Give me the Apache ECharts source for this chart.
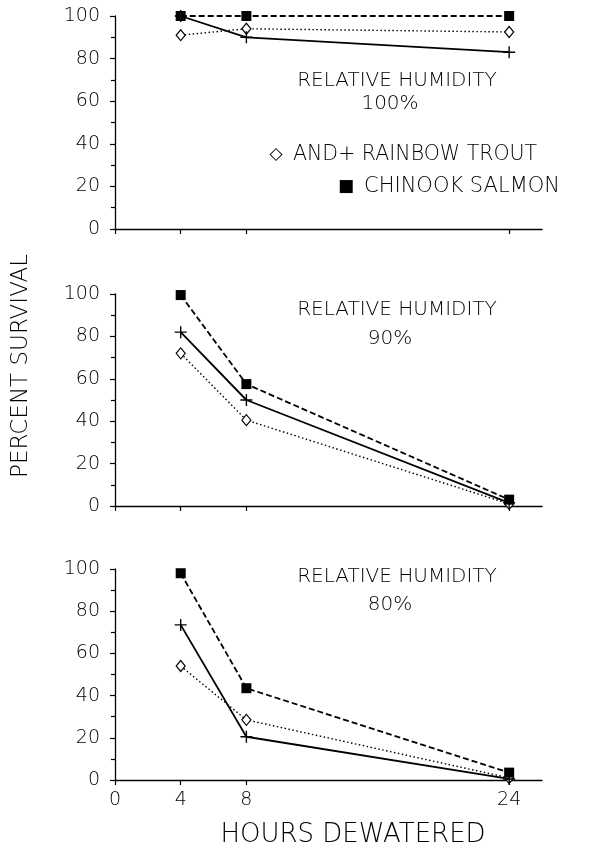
<!DOCTYPE html>
<html>
<head>
<meta charset="utf-8">
<script src="https://cdn.jsdelivr.net/npm/echarts@6/dist/echarts.min.js"></script>
<style>html,body{margin:0;padding:0;background:#fff;}#c{width:598px;height:852px;}</style>
</head>
<body>
<div id="c"></div>
<script>
const hours = [4, 8, 24];
const xTicks = [0, 4, 8, 24];
const yTicks = [0, 20, 40, 60, 80, 100];
const panelTitles = ['RELATIVE HUMIDITY\n100%', 'RELATIVE HUMIDITY\n90%', 'RELATIVE HUMIDITY\n80%'];
const chinook100 = [100, 100, 100];
const rainbow100 = [100, 90, 83];
const and100 = [91, 94, 92.5];
const chinook90 = [99.5, 57.5, 3];
const rainbow90 = [82, 50, 1.5];
const and90 = [72, 40.5, 1];
const chinook80 = [98, 43.5, 3.5];
const rainbow80 = [73.5, 20.5, 0.5];
const and80 = [54, 28.5, 1];
const legendSymbols = ['\u25C7', '\u25A0'];
const legendTexts = ['AND+ RAINBOW TROUT', 'CHINOOK SALMON'];
const xTitle = 'HOURS DEWATERED';
const yTitle = 'PERCENT SURVIVAL';

const FONT = 'DejaVu Sans';
const W = 200;
const panels = [
  {chinook: chinook100, rainbow: rainbow100, and: and100},
  {chinook: chinook90, rainbow: rainbow90, and: and90},
  {chinook: chinook80, rainbow: rainbow80, and: and80}
];
const grids = [
  {left: 115, right: 56, top: 16, height: 213},
  {left: 115, right: 56, top: 294, height: 212},
  {left: 115, right: 56, top: 569, height: 211}
];
const pair = arr => hours.map((h, i) => [h, arr[i]]);
const PLUS = 'path://M5,0 L5,10 M0,5 L10,5';

const xAxes = grids.map((g, i) => ({
  type: 'value', gridIndex: i, min: 0, max: 26,
  axisLine: {show: true, onZero: false, lineStyle: {color: '#000', width: 1.3}},
  axisTick: {show: true, customValues: xTicks, length: 5, lineStyle: {color: '#000', width: 1.2}},
  axisLabel: {show: i === 2, customValues: xTicks, margin: 11, color: '#000', fontFamily: FONT, fontWeight: W, fontSize: 19},
  splitLine: {show: false}
}));
const yAxes = grids.map((g, i) => ({
  type: 'value', gridIndex: i, min: 0, max: 100, interval: 20,
  axisLine: {show: true, lineStyle: {color: '#000', width: 1.3}},
  axisTick: {show: true, length: 5, lineStyle: {color: '#000', width: 1.2}},
  minorTick: {show: true, splitNumber: 2, length: 4, lineStyle: {color: '#000', width: 1.2}},
  axisLabel: {margin: 15, color: '#000', fontFamily: FONT, fontWeight: W, fontSize: 19},
  splitLine: {show: false}
}));

const series = [];
panels.forEach((p, i) => {
  series.push({
    type: 'line', xAxisIndex: i, yAxisIndex: i, data: pair(p.and),
    symbol: 'diamond', symbolSize: [9, 11],
    lineStyle: {color: '#000', width: 1.4, type: [1.5, 2.5]},
    itemStyle: {color: '#fff', borderColor: '#000', borderWidth: 1.2}, z: 3
  });
  series.push({
    type: 'line', xAxisIndex: i, yAxisIndex: i, data: pair(p.rainbow),
    symbol: PLUS, symbolSize: 12,
    lineStyle: {color: '#000', width: 1.8, type: 'solid'},
    itemStyle: {color: '#000', borderColor: '#000', borderWidth: 1.4}, z: 4
  });
  series.push({
    type: 'line', xAxisIndex: i, yAxisIndex: i, data: pair(p.chinook),
    symbol: 'rect', symbolSize: 10,
    lineStyle: {color: '#000', width: 1.8, type: [6, 3]},
    itemStyle: {color: '#000'}, z: 5
  });
});

const font = sz => W + ' ' + sz + 'px "' + FONT + '"';
const titleY = [[81, 104], [310, 339], [577, 605]];
const graphics = [];
panelTitles.forEach((t, i) => {
  const lines = t.split('\n');
  graphics.push({type: 'text', style: {text: lines[0], x: 397, y: titleY[i][0], font: font(20), fill: '#000', align: 'center', verticalAlign: 'middle'}});
  graphics.push({type: 'text', style: {text: lines[1], x: 390, y: titleY[i][1], font: font(20), fill: '#000', align: 'center', verticalAlign: 'middle'}});
});
graphics.push({type: 'text', style: {text: legendSymbols[0], x: 276, y: 155, font: '400 17px "' + FONT + '"', fill: '#000', align: 'center', verticalAlign: 'middle'}});
graphics.push({type: 'text', style: {text: legendTexts[0], x: 293, y: 155, font: font(20.5), fill: '#000', align: 'left', verticalAlign: 'middle'}});
graphics.push({type: 'text', style: {text: legendSymbols[1], x: 346, y: 187, font: '400 17px "' + FONT + '"', fill: '#000', align: 'center', verticalAlign: 'middle'}});
graphics.push({type: 'text', style: {text: legendTexts[1], x: 364, y: 187, font: font(21), fill: '#000', align: 'left', verticalAlign: 'middle'}});
graphics.push({type: 'text', style: {text: xTitle, x: 353, y: 835, font: font(26), fill: '#000', align: 'center', verticalAlign: 'middle'}});
graphics.push({type: 'text', rotation: Math.PI / 2, x: 21, y: 366, style: {text: yTitle, x: 0, y: 0, font: font(23), fill: '#000', align: 'center', verticalAlign: 'middle'}});

const chart = echarts.init(document.getElementById('c'), null, {renderer: 'canvas'});
chart.setOption({
  backgroundColor: '#fff',
  animation: false,
  textStyle: {fontFamily: FONT},
  grid: grids,
  xAxis: xAxes,
  yAxis: yAxes,
  series: series,
  graphic: graphics
});
</script>
</body>
</html>
